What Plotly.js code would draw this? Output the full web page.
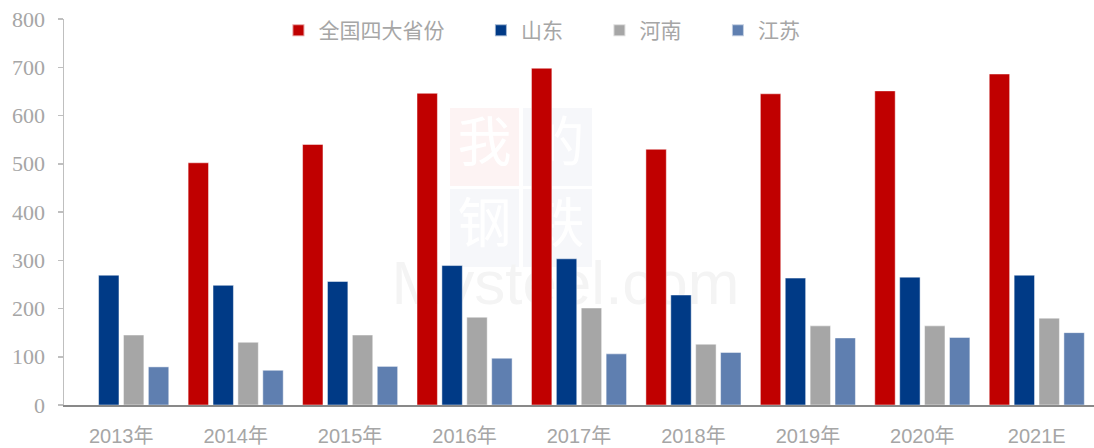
<!DOCTYPE html>
<html>
<head>
<meta charset="utf-8">
<script src="https://cdn.plot.ly/plotly-3.0.1.min.js"></script>
<style>html,body{margin:0;padding:0;background:#fff;}#chart{width:1094px;height:448px;}</style>
</head>
<body>
<div id="chart"></div>
<script>
const categories = ['2013年','2014年','2015年','2016年','2017年','2018年','2019年','2020年','2021E'];
const seriesNames = ['全国四大省份','山东','河南','江苏'];
const total4 = [null, 502, 540, 646, 698, 530, 645, 651, 686];
const shandong = [269, 248, 256, 289, 303, 228, 263, 265, 269];
const henan = [145, 130, 145, 182, 201, 126, 164, 164, 180];
const jiangsu = [79, 72, 80, 97, 106, 109, 139, 140, 150];
const colors = ['#c00000', '#003a86', '#a6a6a6', '#5f7fb0'];
const yTicks = [0,100,200,300,400,500,600,700,800];
const watermarkChars = ['我','的','钢','铁'];
const watermarkText = 'Mysteel.com';

const pad = '\u2002\u2002\u2002';
const values = [total4, shandong, henan, jiangsu];
const traces = values.map((v, i) => ({
  type: 'bar',
  name: seriesNames[i] + (i < 3 ? pad : ''),
  x: categories,
  y: v,
  marker: {color: colors[i], line: {color: 'rgba(255,255,255,0.6)', width: 0.8}},
  hoverinfo: 'none'
}));

// watermark (drawn below the bars)
const px = x => (x - 64) / 1030;
const py = y => (405 - y) / 386;
const boxes = [
  {x0: 450, x1: 519, y0: 108, y1: 186, fill: '#fdf3f3'},
  {x0: 523, x1: 592, y0: 108, y1: 186, fill: '#f6f7fa'},
  {x0: 450, x1: 519, y0: 189, y1: 267, fill: '#f6f7fa'},
  {x0: 523, x1: 592, y0: 189, y1: 267, fill: '#f6f7fa'}
];
const shapes = boxes.map((b, i) => ({
  type: 'rect', xref: 'paper', yref: 'paper', layer: 'below',
  x0: px(b.x0), x1: px(b.x1), y0: py(b.y1), y1: py(b.y0),
  fillcolor: b.fill, line: {width: 0},
  label: {text: watermarkChars[i], font: {family: 'Noto Sans CJK SC', size: 54, color: '#ffffff'}, textposition: 'middle center'}
}));
shapes.push({
  type: 'rect', xref: 'paper', yref: 'paper', layer: 'below',
  x0: px(403), x1: px(728), y0: py(313), y1: py(240),
  fillcolor: 'rgba(0,0,0,0)', line: {width: 0},
  label: {text: watermarkText, font: {family: 'Liberation Sans, sans-serif', size: 62, color: '#f4f4f4'}, textposition: 'middle center', padding: 0}
});

const layout = {
  width: 1094, height: 448,
  margin: {l: 64, r: 0, t: 19, b: 43},
  paper_bgcolor: '#ffffff', plot_bgcolor: '#ffffff',
  barmode: 'group',
  bargap: 0.13,
  bargroupgap: 0.18,
  showlegend: true,
  shapes: shapes,
  legend: {
    orientation: 'h', x: 0.464, xanchor: 'center', y: 0.97, yanchor: 'middle',
    font: {family: 'Noto Sans CJK SC, sans-serif', size: 21, color: '#a6a6a6'},
    itemsizing: 'constant', traceorder: 'normal', bgcolor: 'rgba(0,0,0,0)'
  },
  xaxis: {
    type: 'category',
    showgrid: false, zeroline: false,
    showline: true, linecolor: '#898989', linewidth: 2,
    ticks: '', tickfont: {family: 'Liberation Sans, Noto Sans CJK SC, sans-serif', size: 20, color: '#a6a6a6'},
    ticklabelstandoff: 12
  },
  yaxis: {
    range: [0, 800], tickvals: yTicks, ticktext: yTicks.map(String),
    showgrid: false, zeroline: false,
    showline: true, linecolor: '#bfbfbf', linewidth: 1.5,
    ticks: 'outside', ticklen: 5, tickcolor: '#bfbfbf', tickwidth: 1.5,
    tickfont: {family: 'Liberation Serif, Times New Roman, serif', size: 22, color: '#a6a6a6'},
    ticklabelstandoff: 8
  }
};

Plotly.newPlot('chart', traces, layout, {displayModeBar: false, staticPlot: true});
</script>
</body>
</html>
